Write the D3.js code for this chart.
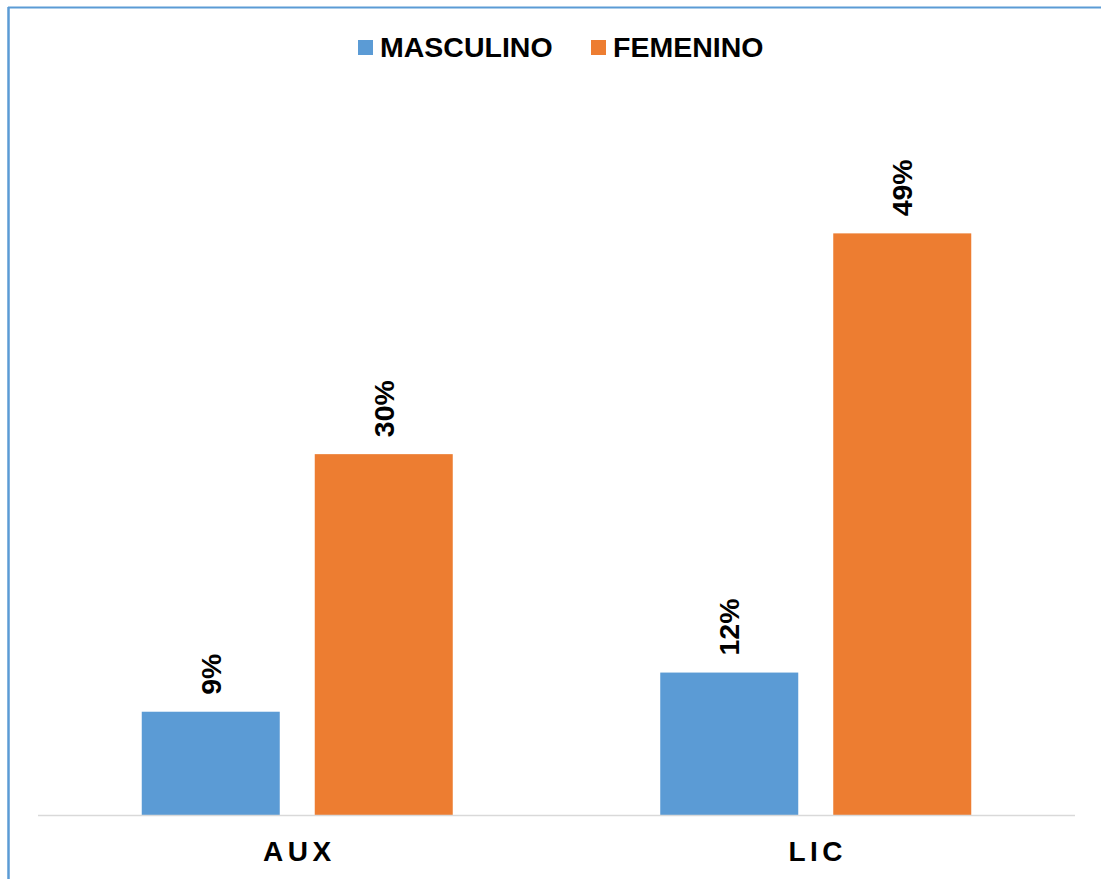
<!DOCTYPE html>
<html>
<head>
<meta charset="utf-8">
<script src="https://cdn.jsdelivr.net/npm/d3@7"></script>
<style>
  body { margin: 0; background: #fff; }
  svg { display: block; font-family: "Liberation Sans", Arial, sans-serif; }
</style>
</head>
<body>
<svg></svg>
<script>
const categories = ['AUX', 'LIC'];
const seriesNames = ['MASCULINO', 'FEMENINO'];
const masculino = [8.7, 12.0];
const femenino = [30.4, 49.0];
const colors = ['#5b9bd5', '#ed7d31'];

const width = 1101;
const height = 879;
const baseY = 815;

const svg = d3.select('svg')
    .attr('width', width)
    .attr('height', height);

// frame lines (top and left of the chart box)
svg.append('line')
    .attr('x1', 8).attr('x2', width).attr('y1', 7.5).attr('y2', 7.5)
    .attr('stroke', '#5b9bd5').attr('stroke-width', 2);
svg.append('line')
    .attr('x1', 8.5).attr('x2', 8.5).attr('y1', 7).attr('y2', height)
    .attr('stroke', '#5b9bd5').attr('stroke-width', 2.5);

const x0 = d3.scaleBand()
    .domain(categories)
    .range([38, 1075]);

const x1 = d3.scaleBand()
    .domain(seriesNames)
    .range([103.75, x0.bandwidth() - 103.75])
    .paddingInner(35 / 173);

const y = d3.scaleLinear()
    .domain([0, 60])
    .range([baseY, baseY - 60 * 11.87]);

const rows = categories.map((c, i) => ({
  category: c,
  values: [
    {series: seriesNames[0], value: masculino[i], color: colors[0]},
    {series: seriesNames[1], value: femenino[i], color: colors[1]}
  ]
}));

const groups = svg.append('g')
  .selectAll('g')
  .data(rows)
  .join('g')
    .attr('transform', d => `translate(${x0(d.category)},0)`);

groups.selectAll('rect')
  .data(d => d.values)
  .join('rect')
    .attr('x', d => x1(d.series))
    .attr('y', d => y(d.value))
    .attr('width', x1.bandwidth())
    .attr('height', d => baseY - y(d.value))
    .attr('fill', d => d.color);

groups.selectAll('text.lbl')
  .data(d => d.values)
  .join('text')
    .classed('lbl', true)
    .attr('transform', d => `translate(${x1(d.series) + x1.bandwidth() / 2 + 10},${y(d.value) - 17}) rotate(-90)`)
    .attr('font-size', 28.5)
    .attr('font-weight', 'bold')
    .attr('fill', '#000')
    .text(d => Math.round(d.value) + '%');

// baseline
svg.append('line')
    .attr('x1', 38).attr('x2', 1075)
    .attr('y1', baseY + 0.5).attr('y2', baseY + 0.5)
    .attr('stroke', '#d9d9d9').attr('stroke-width', 1.5);

// category labels
svg.append('g')
  .selectAll('text')
  .data(categories)
  .join('text')
    .attr('x', d => x0(d) + x0.bandwidth() / 2 + 2)
    .attr('y', 861)
    .attr('text-anchor', 'middle')
    .attr('font-size', 28)
    .attr('font-weight', 'bold')
    .attr('letter-spacing', 4.5)
    .attr('fill', '#000')
    .text(d => d);

// legend
const legendX = [358, 591];
const legend = svg.append('g')
  .selectAll('g')
  .data(seriesNames)
  .join('g')
    .attr('transform', (d, i) => `translate(${legendX[i]},40)`);

legend.append('rect')
    .attr('width', 15).attr('height', 15)
    .attr('fill', (d, i) => colors[i]);

legend.append('text')
    .attr('x', 22)
    .attr('y', 17)
    .attr('font-size', 28.5)
    .attr('font-weight', 'bold')
    .attr('fill', '#000')
    .text(d => d);
</script>
</body>
</html>
